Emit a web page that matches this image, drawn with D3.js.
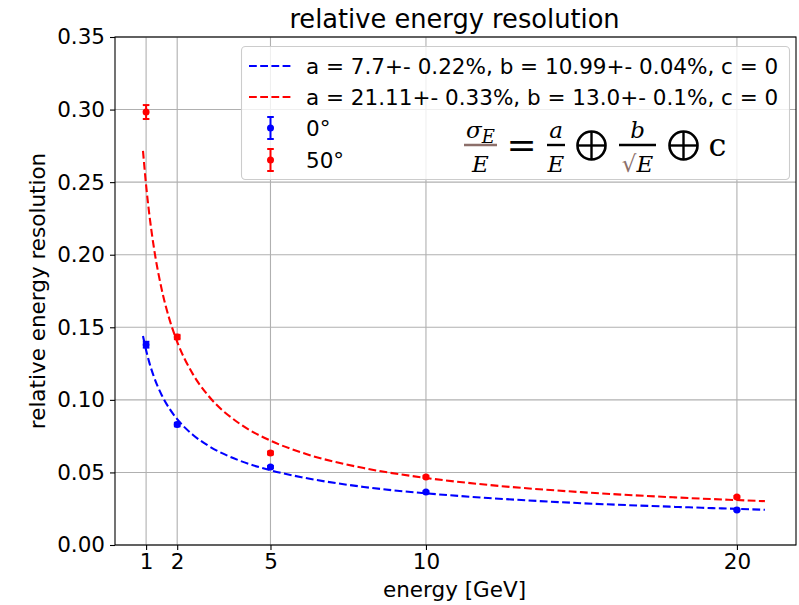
<!DOCTYPE html>
<html>
<head>
<meta charset="utf-8">
<script src="https://cdn.jsdelivr.net/npm/d3@7"></script>
<style>
  body { margin: 0; background: #fff; }
  text { font-family: "DejaVu Sans", sans-serif; fill: #000; }
</style>
</head>
<body>
<div id="my_dataviz"></div>
<script>

// measured points
var energies = [1, 2, 5, 10, 20];
var res0 = [0.138, 0.083, 0.0537, 0.0365, 0.0241];
var err0 = [0.002, 0.0012, 0.0008, 0.0006, 0.0005];
var res50 = [0.2983, 0.1433, 0.0634, 0.0469, 0.0331];
var err50 = [0.0048, 0.0015, 0.001, 0.0008, 0.0007];

// fitted curves, sampled
var fitE = [0.9, 1, 1.1, 1.25, 1.5, 1.75, 2, 2.5, 3, 4, 5, 6, 8, 10, 12, 15, 18, 20.9];
var fit0 = [0.1440, 0.1342, 0.1260, 0.1160, 0.1034, 0.0940, 0.0867, 0.0760, 0.0684, 0.0582, 0.0515, 0.0467, 0.0400, 0.0356, 0.0324, 0.0288, 0.0263, 0.0243];
var fit50 = [0.2716, 0.2479, 0.2285, 0.2050, 0.1763, 0.1556, 0.1400, 0.1179, 0.1029, 0.0837, 0.0719, 0.0637, 0.0530, 0.0462, 0.0414, 0.0364, 0.0328, 0.0302];

var xTicks = [1, 2, 5, 10, 20];
var yTicks = [0, 0.05, 0.10, 0.15, 0.20, 0.25, 0.30, 0.35];
var legendLabels = ["a = 7.7+- 0.22%, b = 10.99+- 0.04%, c = 0",
                    "a = 21.11+- 0.33%, b = 13.0+- 0.1%, c = 0",
                    "0°", "50°"];

// set the dimensions and margins of the graph
var margin = {top: 37, right: 3, bottom: 60, left: 115},
    width = 799 - margin.left - margin.right,
    height = 605 - margin.top - margin.bottom;

var svg = d3.select("#my_dataviz")
  .append("svg")
    .attr("width", width + margin.left + margin.right)
    .attr("height", height + margin.top + margin.bottom)
  .append("g")
    .attr("transform", "translate(" + margin.left + "," + margin.top + ")");

var x = d3.scaleLinear()
  .domain([0, 21.9])
  .range([0, width]);

var y = d3.scaleLinear()
  .domain([0, 0.35])
  .range([height, 0]);

// grid
svg.append("g")
  .selectAll("line")
  .data(xTicks)
  .enter()
  .append("line")
    .attr("x1", function(d) { return x(d); })
    .attr("x2", function(d) { return x(d); })
    .attr("y1", 0)
    .attr("y2", height)
    .attr("stroke", "#b0b0b0")
    .attr("stroke-width", 1.1);

svg.append("g")
  .selectAll("line")
  .data(yTicks)
  .enter()
  .append("line")
    .attr("x1", 0)
    .attr("x2", width)
    .attr("y1", function(d) { return y(d); })
    .attr("y2", function(d) { return y(d); })
    .attr("stroke", "#b0b0b0")
    .attr("stroke-width", 1.1);

// axes
var xAxis = svg.append("g")
  .attr("transform", "translate(0," + height + ")")
  .call(d3.axisBottom(x).tickValues(xTicks).tickSize(5).tickPadding(4).tickFormat(d3.format("d")));

var yAxis = svg.append("g")
  .call(d3.axisLeft(y).tickValues(yTicks).tickSize(5).tickPadding(5).tickFormat(d3.format(".2f")));

[xAxis, yAxis].forEach(function(a) {
  a.select(".domain").remove();
  a.selectAll("line").attr("stroke", "#000").attr("stroke-width", 1.1);
  a.selectAll("text").style("font-size", "21.5px").style("font-family", "DejaVu Sans").attr("fill", "#000");
});

// frame
svg.append("rect")
  .attr("width", width)
  .attr("height", height)
  .attr("fill", "none")
  .attr("stroke", "#000")
  .attr("stroke-width", 1.1);

// fit lines
var line = d3.line()
  .x(function(d) { return x(d[0]); })
  .y(function(d) { return y(d[1]); })
  .curve(d3.curveMonotoneX);

var fits = [[fit0, "blue"], [fit50, "red"]];
fits.forEach(function(f) {
  svg.append("path")
    .datum(fitE.map(function(e, i) { return [e, f[0][i]]; }))
    .attr("d", line)
    .attr("fill", "none")
    .attr("stroke", f[1])
    .attr("stroke-width", 2.1)
    .attr("stroke-dasharray", "7.8,3.4");
});

// error bars + points
function drawPoints(vals, errs, color) {
  var g = svg.append("g");
  var pts = energies.map(function(e, i) { return {e: e, v: vals[i], s: errs[i]}; });
  g.selectAll("line.bar").data(pts).enter().append("line")
    .attr("x1", function(d) { return x(d.e); })
    .attr("x2", function(d) { return x(d.e); })
    .attr("y1", function(d) { return y(d.v - d.s); })
    .attr("y2", function(d) { return y(d.v + d.s); })
    .attr("stroke", color).attr("stroke-width", 2);
  [-1, 1].forEach(function(sgn) {
    g.selectAll("line.cap" + sgn).data(pts).enter().append("line")
      .attr("x1", function(d) { return x(d.e) - 3.3; })
      .attr("x2", function(d) { return x(d.e) + 3.3; })
      .attr("y1", function(d) { return y(d.v + sgn * d.s); })
      .attr("y2", function(d) { return y(d.v + sgn * d.s); })
      .attr("stroke", color).attr("stroke-width", 2);
  });
  g.selectAll("circle").data(pts).enter().append("circle")
    .attr("cx", function(d) { return x(d.e); })
    .attr("cy", function(d) { return y(d.v); })
    .attr("r", 3.5)
    .style("fill", color);
}
drawPoints(res0, err0, "blue");
drawPoints(res50, err50, "red");

// title and axis labels
svg.append("text")
  .attr("x", width / 2 - 1)
  .attr("y", -9)
  .attr("text-anchor", "middle")
  .style("font-size", "25.7px")
  .text("relative energy resolution");

svg.append("text")
  .attr("x", width / 2 - 1)
  .attr("y", height + 52)
  .attr("text-anchor", "middle")
  .style("font-size", "21.5px")
  .text("energy [GeV]");

svg.append("text")
  .attr("transform", "translate(" + (-70) + "," + (height / 2) + ") rotate(-90)")
  .attr("text-anchor", "middle")
  .style("font-size", "21.5px")
  .text("relative energy resolution");

// legend (page coordinates)
var leg = d3.select("svg").append("g");
leg.append("rect")
  .attr("x", 241.5).attr("y", 46.5)
  .attr("width", 548).attr("height", 133)
  .attr("rx", 4)
  .attr("fill", "#fff").attr("fill-opacity", 0.8)
  .attr("stroke", "#cccccc").attr("stroke-width", 1.1);

var rowY = [66, 97, 128, 160];
var rowColor = ["blue", "red", "blue", "red"];
rowY.forEach(function(ry, i) {
  if (i < 2) {
    leg.append("line")
      .attr("x1", 249).attr("x2", 292)
      .attr("y1", ry).attr("y2", ry)
      .attr("stroke", rowColor[i]).attr("stroke-width", 2.1)
      .attr("stroke-dasharray", "7.8,3.4");
  } else {
    leg.append("line").attr("x1", 270.5).attr("x2", 270.5).attr("y1", ry - 11).attr("y2", ry + 11)
      .attr("stroke", rowColor[i]).attr("stroke-width", 2);
    [-11, 11].forEach(function(o) {
      leg.append("line").attr("x1", 267.2).attr("x2", 273.8).attr("y1", ry + o).attr("y2", ry + o)
        .attr("stroke", rowColor[i]).attr("stroke-width", 2);
    });
    leg.append("circle").attr("cx", 270.5).attr("cy", ry).attr("r", 3.5).style("fill", rowColor[i]);
  }
  leg.append("text")
    .attr("x", 306).attr("y", ry + 7.5)
    .style("font-size", "21.5px")
    .text(legendLabels[i]);
});

// formula sigma_E/E = a/E (+) b/sqrt(E) (+) c
var fm = leg.append("g");
function frac(cx, num, den, barW, barColor) {
  var n = fm.append("text").attr("x", cx).attr("y", 138).attr("text-anchor", "middle")
    .style("font-family", "DejaVu Serif").style("font-style", "italic").style("font-size", "23px");
  num(n);
  fm.append("line").attr("x1", cx - barW / 2).attr("x2", cx + barW / 2).attr("y1", 145).attr("y2", 145)
    .attr("stroke", barColor).attr("stroke-width", 2.4);
  var d = fm.append("text").attr("x", cx).attr("y", 172).attr("text-anchor", "middle")
    .style("font-family", "DejaVu Serif").style("font-style", "italic").style("font-size", "23px");
  den(d);
}
function oplus(cx) {
  fm.append("circle").attr("cx", cx).attr("cy", 145.5).attr("r", 14)
    .attr("fill", "none").attr("stroke", "#000").attr("stroke-width", 2.6);
  fm.append("line").attr("x1", cx - 14).attr("x2", cx + 14).attr("y1", 145.5).attr("y2", 145.5)
    .attr("stroke", "#000").attr("stroke-width", 2.4);
  fm.append("line").attr("x1", cx).attr("x2", cx).attr("y1", 131.5).attr("y2", 159.5)
    .attr("stroke", "#000").attr("stroke-width", 2.4);
}
frac(480.5, function(t) { t.text("σ"); t.append("tspan").attr("dy", 5).style("font-size", "18px").text("E"); },
  function(t) { t.text("E"); }, 33, "#8c6f6a");
fm.append("text").attr("x", 521.5).attr("y", 157).attr("text-anchor", "middle")
  .style("font-family", "DejaVu Serif").style("font-size", "36px").text("=");
frac(556, function(t) { t.text("a"); }, function(t) { t.text("E"); }, 18, "#000");
oplus(591.5);
frac(637.5, function(t) { t.text("b"); },
  function(t) { t.append("tspan").style("font-style", "normal").attr("fill", "#8c6f6a").text("√"); t.append("tspan").text("E"); }, 37, "#000");
oplus(683.5);
fm.append("text").attr("x", 717.5).attr("y", 156).attr("text-anchor", "middle")
  .style("font-family", "DejaVu Serif").style("font-size", "32px").text("c");

</script>
</body>
</html>
